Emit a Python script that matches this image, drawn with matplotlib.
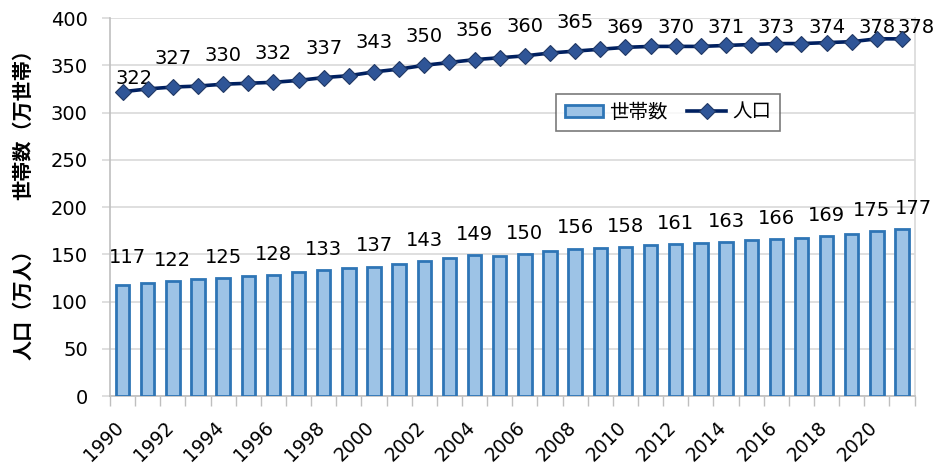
import matplotlib
matplotlib.use("Agg")
import matplotlib.pyplot as plt
import matplotlib.transforms as mtransforms
import numpy as np

plt.rcParams['font.family'] = ['DejaVu Sans', 'Noto Sans CJK JP']

years = list(range(1990, 2022))
households = [117, 120, 122, 124, 125, 127, 128, 131, 133, 135, 137, 140, 143, 146, 149, 148,
              150, 153, 156, 157, 158, 160, 161, 162, 163, 165, 166, 167, 169, 171, 175, 177]
population = [322, 325, 327, 328, 330, 331, 332, 334, 337, 339, 343, 346, 350, 353, 356, 358,
              360, 363, 365, 367, 369, 370, 370, 370, 371, 372, 373, 373, 374, 375, 378, 378]
labeled = [y for y in years if y % 2 == 0] + [2021]

fig = plt.figure(figsize=(9.4, 4.63), dpi=100)
ax_h = 0.8163
ax = fig.add_axes([0.117, 0.1447, 0.856, ax_h])

x = np.arange(len(years))
ax.bar(x, households, width=0.53, color='#9DC3E6', edgecolor='#2E75B6', linewidth=2,
       label='世帯数', zorder=3)
ax.plot(x, population, color='#002060', linewidth=2.6, marker='D', markersize=8.5,
        markerfacecolor='#2F5597', markeredgecolor='#203864', markeredgewidth=0.8,
        label='人口', zorder=4)

# points per data unit, used to keep the top labels inside the chart (like Excel does)
pt_per_unit = fig.get_figheight() * 72 * ax_h / 400
label_cap = 380

for i, y in enumerate(years):
    if y not in labeled:
        continue
    bdx, bdy, pdx = 0, 8, 0
    pdy = 14
    if y == 1990:
        bdx, bdy, pdx, pdy = 3.5, 13, 8, 3
    elif y == 2020:
        bdx = -4
    elif y == 2021:
        bdx, pdx = 8, 10
    if population[i] + pdy / pt_per_unit + 20 > 406:
        pdy = (label_cap - population[i]) * pt_per_unit
    ax.annotate(str(households[i]), (x[i], households[i]), xytext=(bdx, bdy),
                textcoords='offset points', ha='center', va='bottom', fontsize=14)
    ax.annotate(str(population[i]), (x[i], population[i]), xytext=(pdx, pdy),
                textcoords='offset points', ha='center', va='bottom', fontsize=14,
                annotation_clip=False)

ax.set_xlim(-0.5, len(years) - 0.5)
ax.set_ylim(0, 400)
ax.set_yticks(range(0, 401, 50))
ax.tick_params(axis='y', length=6, color='#D9D9D9', width=1.2, labelsize=14, pad=10)
ax.set_xticks([i for i, y in enumerate(years) if y % 2 == 0])
ax.set_xticklabels([str(y) for y in years if y % 2 == 0], rotation=45, ha='right',
                   rotation_mode='anchor', fontsize=13.5)
ax.tick_params(axis='x', which='major', length=0, pad=15.5)
shift = mtransforms.ScaledTranslation(-6.5 / 72, 0, fig.dpi_scale_trans)
for lbl in ax.get_xticklabels():
    lbl.set_transform(lbl.get_transform() + shift)
ax.set_xticks(np.arange(-0.5, len(years), 1), minor=True)
ax.tick_params(axis='x', which='minor', length=7, color='#BFBFBF', width=1)

ax.grid(axis='y', color='#D9D9D9', linewidth=1.2, zorder=0)
ax.set_axisbelow(True)
for s in ['left', 'bottom']:
    ax.spines[s].set_color('#BFBFBF')
    ax.spines[s].set_linewidth(1.2)
ax.spines['right'].set_color('#D9D9D9')
ax.spines['right'].set_linewidth(1.2)
ax.spines['top'].set_visible(False)

handles, labels = ax.get_legend_handles_labels()
order = [labels.index('世帯数'), labels.index('人口')]
leg = ax.legend([handles[k] for k in order], [labels[k] for k in order],
                loc='upper left', bbox_to_anchor=(0.554, 0.799), borderaxespad=0,
                ncol=2, fontsize=14, frameon=True, fancybox=False, edgecolor='#595959',
                handlelength=2.0, handleheight=0.6, columnspacing=1.0,
                handletextpad=0.3, borderpad=0.45)
leg.get_frame().set_linewidth(1.2)

fig.text(0.024, 0.741, '世帯数（万世帯）', rotation=90, ha='center', va='center',
         fontsize=14.5, fontweight='bold', family=['Noto Sans CJK JP'])
fig.text(0.024, 0.352, '人口（万人）', rotation=90, ha='center', va='center',
         fontsize=14.5, fontweight='bold', family=['Noto Sans CJK JP'])

fig.savefig('out.png', dpi=100)
